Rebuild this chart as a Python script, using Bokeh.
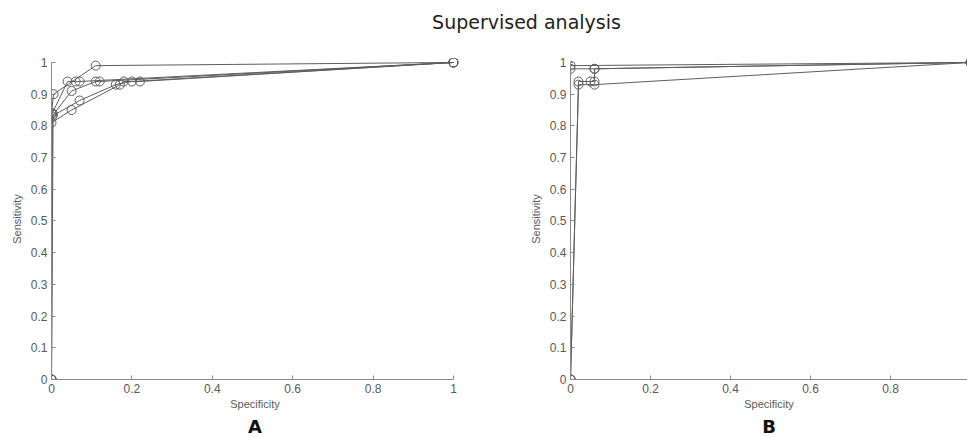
from bokeh.plotting import figure
from bokeh.layouts import column, row
from bokeh.models import Range1d, FixedTicker, Title
from bokeh.embed import file_html
from bokeh.resources import INLINE
from bokeh.core.properties import value

# ---------------- data ----------------
title_text = "Supervised analysis"
x_label = "Specificity"
y_label = "Sensitivity"
panel_letters = ["A", "B"]

x_ticks = [0, 0.2, 0.4, 0.6, 0.8, 1]
x_tick_labels = ["0", "0.2", "0.4", "0.6", "0.8", "1"]
y_ticks = [0, 0.1, 0.2, 0.3, 0.4, 0.5, 0.6, 0.7, 0.8, 0.9, 1]
y_tick_labels = ["0", "0.1", "0.2", "0.3", "0.4", "0.5", "0.6", "0.7", "0.8", "0.9", "1"]

# Panel A curves
a1_x = [0, 0.0, 0.005, 0.11, 1.0]
a1_y = [0, 0.84, 0.90, 0.99, 1.0]
a2_x = [0, 0.002, 0.04, 0.06, 0.07, 1.0]
a2_y = [0, 0.84, 0.94, 0.94, 0.94, 1.0]
a3_x = [0, 0.004, 0.05, 0.11, 0.12, 1.0]
a3_y = [0, 0.835, 0.91, 0.94, 0.94, 1.0]
a4_x = [0, 0.001, 0.07, 0.16, 0.20, 1.0]
a4_y = [0, 0.83, 0.88, 0.93, 0.94, 1.0]
a5_x = [0, 0.0, 0.05, 0.17, 0.18, 0.22, 1.0]
a5_y = [0, 0.81, 0.85, 0.93, 0.94, 0.94, 1.0]

# Panel B curves
b1_x = [0, 0.0, 1.0]
b1_y = [0, 0.99, 1.0]
b2_x = [0, 0.0, 0.06, 1.0]
b2_y = [0, 0.98, 0.98, 1.0]
b3_x = [0, 0.02, 0.05, 0.06, 0.06, 1.0]
b3_y = [0, 0.94, 0.94, 0.94, 0.98, 1.0]
b4_x = [0, 0.02, 0.06, 1.0]
b4_y = [0, 0.93, 0.93, 1.0]

# ---------------- styling ----------------
LINE = "#5e5e5e"
AXIS = "#8a8a8a"
TICK_TXT = "#5a5a5a"
PAD = 0.0125


def make_panel(curves, x_end, width, mbl, mbr, letter):
    p = figure(width=width, height=389,
               x_range=Range1d(0, x_end), y_range=Range1d(0, 1 + PAD),
               output_backend="svg", toolbar_location=None,
               min_border_left=mbl, min_border_right=mbr,
               min_border_top=10, min_border_bottom=58)
    p.xgrid.visible = False
    p.ygrid.visible = False
    p.outline_line_color = None
    p.background_fill_color = "white"
    p.border_fill_color = "white"
    for cx, cy in curves:
        p.line(cx, cy, line_color=LINE, line_width=1)
        p.scatter(cx, cy, marker="circle", size=9, fill_color=None,
                  line_color=LINE, line_width=1)
    for ax, ticks, labels, lab in ((p.xaxis[0], x_ticks, x_tick_labels, x_label),
                                   (p.yaxis[0], y_ticks, y_tick_labels, y_label)):
        ax.ticker = FixedTicker(ticks=ticks)
        ax.major_label_overrides = dict(zip(ticks, labels))
        ax.axis_line_color = AXIS
        ax.major_tick_line_color = AXIS
        ax.major_tick_in = 4
        ax.major_tick_out = 0
        ax.minor_tick_line_color = None
        ax.major_label_text_font = "Liberation Sans"
        ax.major_label_text_font_size = "12px"
        ax.major_label_text_color = TICK_TXT
        ax.major_label_standoff = 4
        ax.axis_label = lab
        ax.axis_label_text_font = "Liberation Sans"
        ax.axis_label_text_font_size = "11px"
        ax.axis_label_text_font_style = "normal"
        ax.axis_label_text_color = TICK_TXT
    p.xaxis[0].bounds = (0, min(1, x_end))
    p.yaxis[0].bounds = (0, 1)
    p.xaxis[0].axis_label_standoff = 2
    p.yaxis[0].axis_label_standoff = 5
    p.add_layout(Title(text=letter, align="center", text_font_size="18px",
                       text_font_style="bold", text_font="DejaVu Sans",
                       text_color="#111111", standoff=2), "below")
    return p


pa = make_panel([(a1_x, a1_y), (a2_x, a2_y), (a3_x, a3_y), (a4_x, a4_y), (a5_x, a5_y)],
                1 + PAD, 488, 51, 30, panel_letters[0])
pb = make_panel([(b1_x, b1_y), (b2_x, b2_y), (b3_x, b3_y), (b4_x, b4_y)],
                0.9925, 479, 82, 0, panel_letters[1])

top = figure(width=967, height=48, x_range=Range1d(0, 967), y_range=Range1d(0, 48),
             output_backend="svg", toolbar_location=None,
             x_axis_location=None, y_axis_location=None, min_border=0)
top.xgrid.visible = False
top.ygrid.visible = False
top.outline_line_color = None
top.text(x=[526], y=[27], text=[title_text], text_align="center",
         text_baseline="middle", text_font=value("DejaVu Sans"),
         text_font_size="19px", text_color="#222222")

layout = column(top, row(pa, pb))

with open("out.html", "w") as f:
    f.write(file_html(layout, INLINE))
